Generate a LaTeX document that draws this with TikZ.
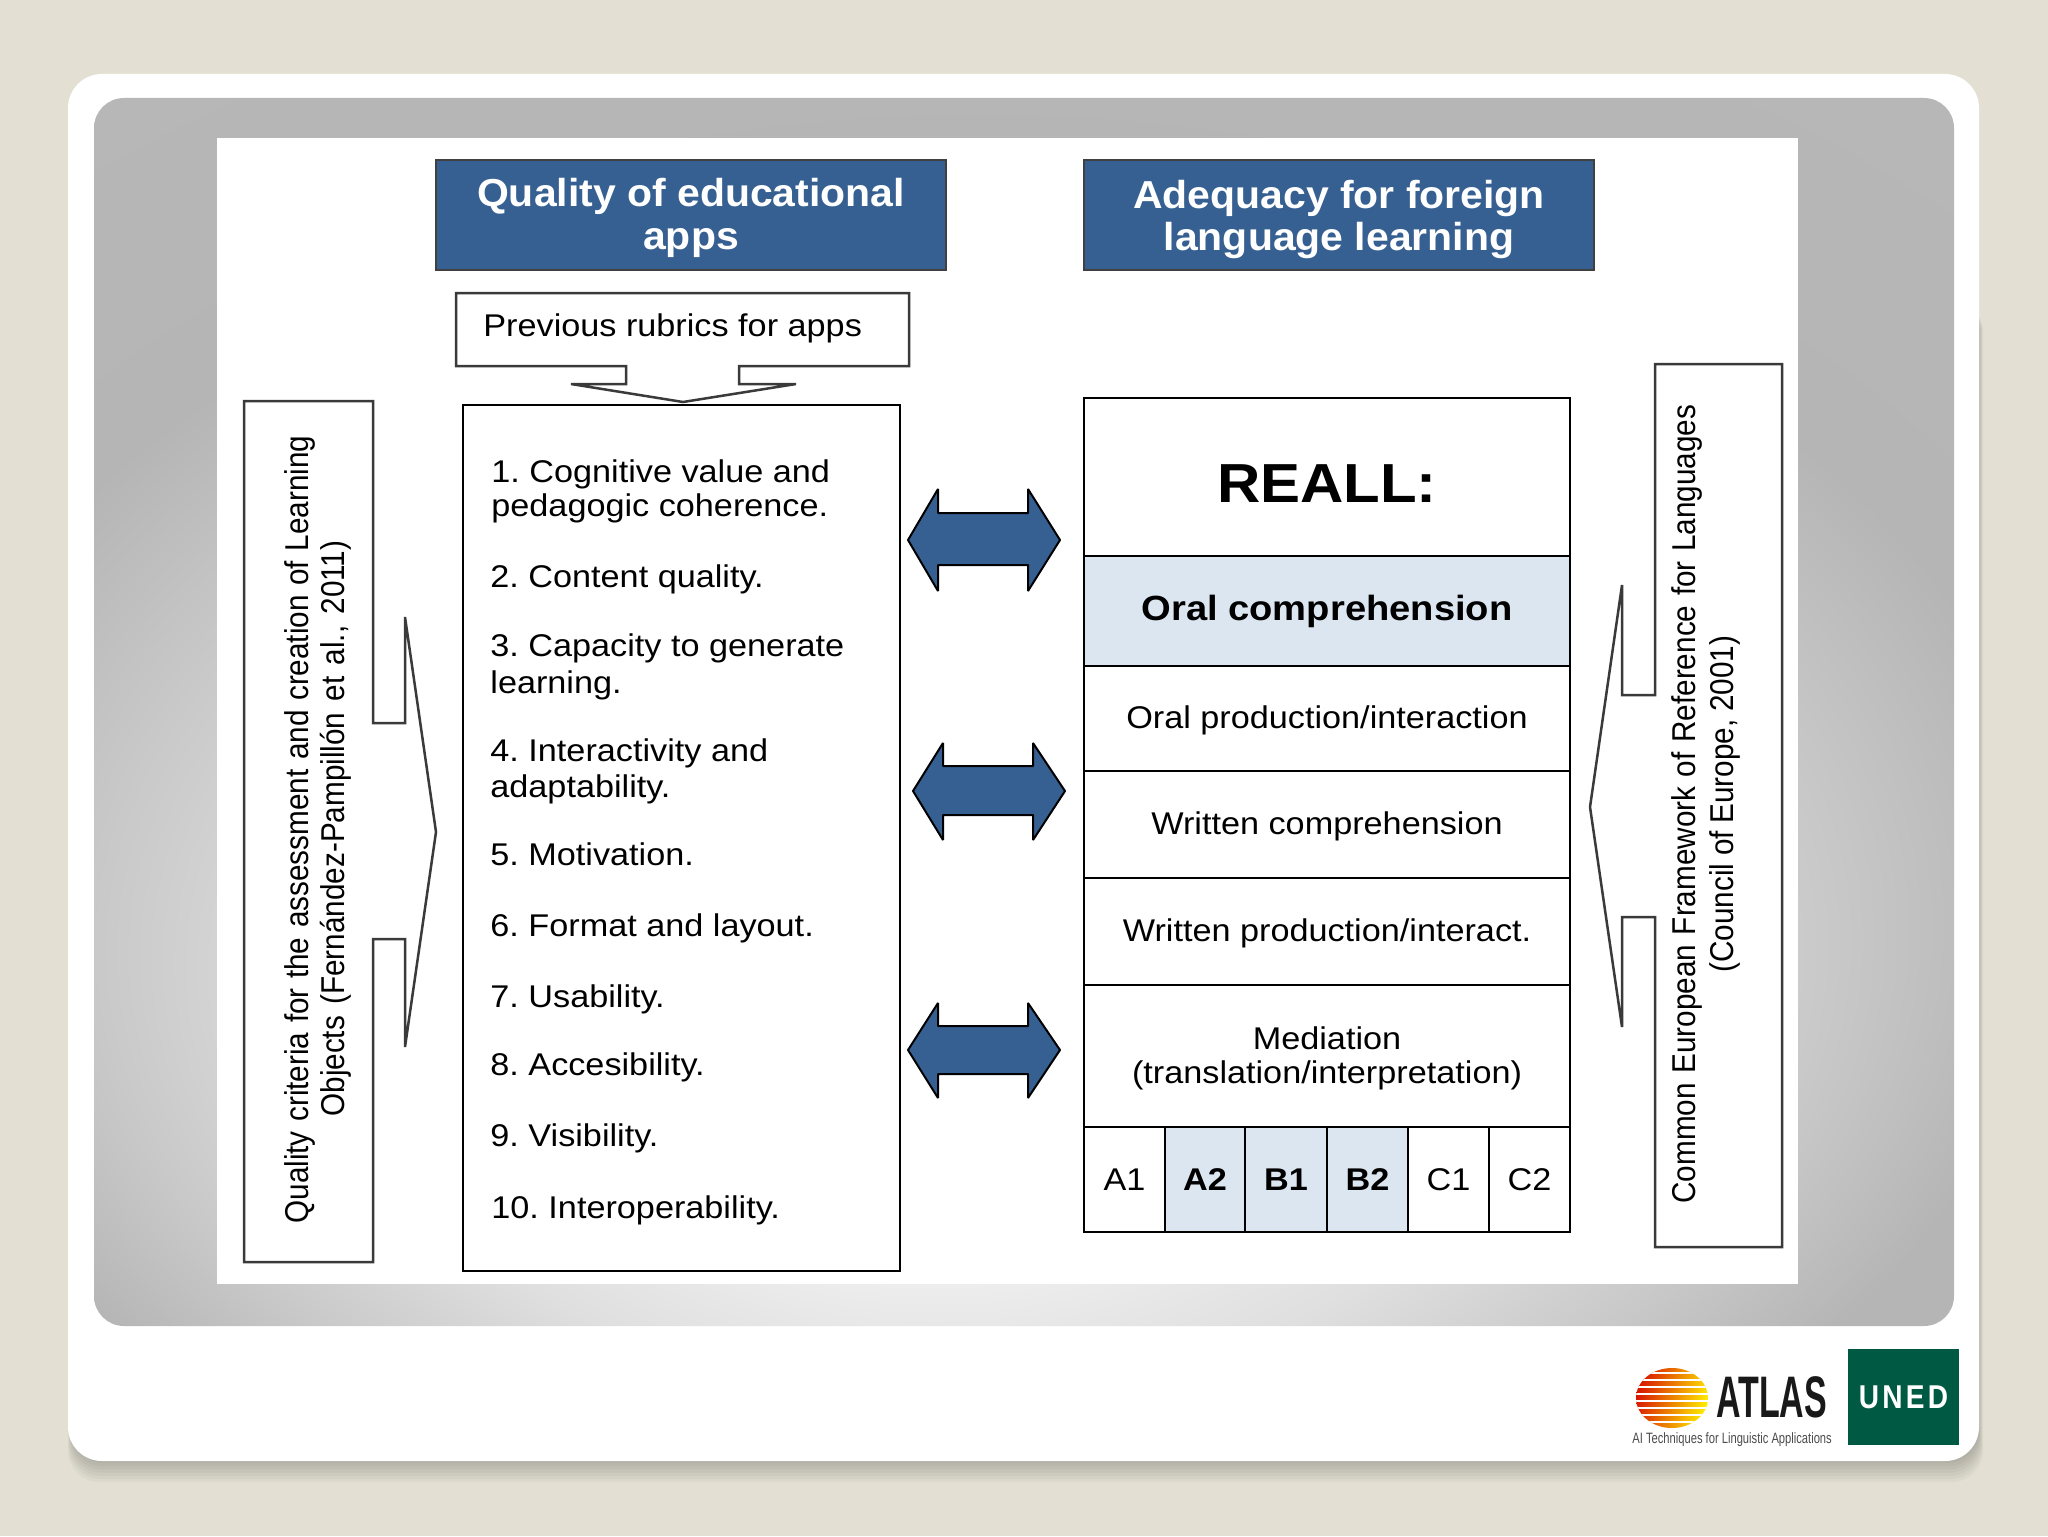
\documentclass[tikz,border=0pt]{standalone}
\usepackage{fontspec}
\setmainfont{Liberation Sans}
\AtBeginDocument{\frenchspacing}
\newfontfamily\lf[FakeStretch=1.09]{Liberation Sans}
\newfontfamily\hf[FakeStretch=1.05]{Liberation Sans}
\newfontfamily\vf[FakeStretch=0.9]{Liberation Sans}
\newfontfamily\atl[FakeStretch=0.58]{Liberation Sans}
\newfontfamily\atlsub[FakeStretch=0.745]{Liberation Sans}
\newfontfamily\un[FakeStretch=0.85,LetterSpace=10]{Liberation Sans}
\definecolor{pagebg}{HTML}{E3E0D3}
\definecolor{headblue}{HTML}{376092}
\definecolor{paleblue}{HTML}{DCE6F1}
\definecolor{unedgreen}{HTML}{005A43}
\definecolor{calloutline}{HTML}{3A3A3A}
\pgfdeclareradialshading{panelshade}{\pgfpoint{-3bp}{-17bp}}{
 color(0bp)=(white!96!gray);
 color(8bp)=(white!88!gray);
 color(16bp)=(white!75!gray);
 color(23bp)=(white!58!gray);
 color(29bp)=(white!42!gray);
 color(42bp)=(white!44!gray);
 color(47bp)=(white!32!gray);
 color(53bp)=(white!28!gray)}
\tikzset{
 listitem/.style={inner sep=0pt,anchor=base west,font=\fontsize{15.7}{18}\lf},
 vertlabel/.style={inner sep=0pt,anchor=base west,rotate=90,font=\fontsize{16.5}{18}\vf},
 head/.style={draw=black!75,line width=1pt,fill=headblue,text=white,inner sep=0pt,minimum width=255pt,minimum height=55pt,align=center,font=\fontsize{19.5}{20}\hf\bfseries},
 rowbox/.style={draw=black,line width=1pt,inner sep=0pt,minimum width=243pt,align=center,font=\fontsize{15.7}{13}\lf},
 cellbox/.style={draw=black,line width=1pt,inner sep=0pt,minimum height=52.5pt,font=\fontsize{15.7}{18}\lf},
 callout/.style={draw=calloutline,line width=1.25pt,fill=white,line join=miter},
 dblarrow/.style={draw=black,line width=1pt,fill=headblue,line join=bevel},
}
\begin{document}
\begin{tikzpicture}[x=0.5pt,y=-0.5pt]
\useasboundingbox (0,0) rectangle (2048,1536);
\fill[pagebg] (0,0) rectangle (2048,1536);
% card shadow
\foreach \d in {0,2,...,12}{
 \fill[black,opacity=0.03,rounded corners=16pt] (72-\d/3,300) rectangle (1979+\d/3,1463+1.6*\d);
}
\fill[white,rounded corners=17pt] (68,74) rectangle (1979,1461);
% gray panel
\shade[shading=panelshade,rounded corners=15pt] (94,98) rectangle (1954,1326);
\fill[white] (217,138) rectangle (1798,1284);

% headers
\node[head] (h1) at (691,215) {\rule{0pt}{17.5pt}Quality of educational\\[1.5pt]apps};
\node[head] (h2) at (1339,215) {\rule{0pt}{18.5pt}Adequacy for foreign\\[1pt]language learning};

% previous rubrics callout
\draw[callout] (456,293) -- (909,293) -- (909,366) -- (739,366) -- (739,384) -- (796,384) -- (683,402) -- (571,384) -- (626,384) -- (626,366) -- (456,366) -- cycle;
\node[listitem] (prev) at (483,336) {Previous rubrics for apps};

% central list
\node[draw=black,line width=1pt,inner sep=0pt,minimum width=218.5pt,minimum height=433pt] (list) at (681.5,838) {};
\node[listitem] (i1a) at (491,482) {1. Cognitive value and};
\node[listitem] (i1b) at (491,516) {pedagogic coherence.};
\node[listitem] (i2) at (490,587) {2. Content quality.};
\node[listitem] (i3a) at (490,656) {3. Capacity to generate};
\node[listitem] (i3b) at (490,693) {learning.};
\node[listitem] (i4a) at (490,761) {4. Interactivity and};
\node[listitem] (i4b) at (490,797) {adaptability.};
\node[listitem] (i5) at (490,865) {5. Motivation.};
\node[listitem] (i6) at (490,936) {6. Format and layout.};
\node[listitem] (i7) at (490,1007) {7. Usability.};
\node[listitem] (i8) at (490,1075) {8. Accesibility.};
\node[listitem] (i9) at (490,1146) {9. Visibility.};
\node[listitem] (i10) at (491,1218) {10. Interoperability.};

% left callout
\draw[callout] (244,401) -- (373,401) -- (373,723) -- (405,723) -- (405,617) -- (436,832) -- (405,1047) -- (405,939) -- (373,939) -- (373,1262) -- (244,1262) -- cycle;
\node[vertlabel] (l1) at (308,1224) {\makebox[394pt][s]{Quality criteria for the assessment and creation of Learning}};
\node[vertlabel] (l2) at (344,1117) {\makebox[288pt][s]{Objects (Fernández-Pampillón et al., 2011)}};

% right callout
\draw[callout] (1655,364) -- (1782,364) -- (1782,1247) -- (1655,1247) -- (1655,917) -- (1622,917) -- (1622,1027) -- (1590,807) -- (1622,585) -- (1622,695) -- (1655,695) -- cycle;
\node[vertlabel] (r1) at (1695,1204) {\makebox[399.5pt][s]{Common European Framework of Reference for Languages}};
\node[vertlabel] (r2) at (1733,973) {\makebox[168.5pt][s]{(Council of Europe, 2001)}};

% right stack
\node[rowbox,minimum height=79pt,font=\fontsize{27.5}{30}\lf\bfseries] (reall) at (1327,477) {\rule{0pt}{25.5pt}REALL:};
\node[rowbox,minimum height=55pt,fill=paleblue,font=\fontsize{17.5}{20}\lf\bfseries] (oc) at (1327,611) {Oral comprehension};
\node[rowbox,minimum height=52.5pt] (op) at (1327,718.5) {\rule{0pt}{13.3pt}Oral production/interaction};
\node[rowbox,minimum height=53.5pt] (wc) at (1327,824.5) {\rule{0pt}{13.3pt}Written comprehension};
\node[rowbox,minimum height=53.5pt] (wp) at (1327,931.5) {\rule{0pt}{13.3pt}Written production/interact.};
\node[rowbox,minimum height=71pt] (med) at (1327,1056) {\rule{0pt}{13.3pt}Mediation\\[4pt](translation/interpretation)};
\node[cellbox,minimum width=40.5pt] (a1) at (1124.5,1179.5) {A1};
\node[cellbox,minimum width=40pt,fill=paleblue,font=\fontsize{15.7}{18}\lf\bfseries] (a2) at (1205,1179.5) {A2};
\node[cellbox,minimum width=41pt,fill=paleblue,font=\fontsize{15.7}{18}\lf\bfseries] (b1) at (1286,1179.5) {B1};
\node[cellbox,minimum width=40.5pt,fill=paleblue,font=\fontsize{15.7}{18}\lf\bfseries] (b2) at (1367.5,1179.5) {B2};
\node[cellbox,minimum width=40.5pt] (c1) at (1448.5,1179.5) {C1};
\node[cellbox,minimum width=40.5pt] (c2) at (1529.5,1179.5) {C2};

% double arrows
\draw[dblarrow] (908,540) -- (938,489) -- (938,513) -- (1028,513) -- (1028,489) -- (1060,540) -- (1028,591) -- (1028,565) -- (938,565) -- (938,591) -- cycle;
\draw[dblarrow] (913,791) -- (943,743) -- (943,766) -- (1033,766) -- (1033,743) -- (1065,791) -- (1033,840) -- (1033,815) -- (943,815) -- (943,840) -- cycle;
\draw[dblarrow] (908,1050) -- (938,1003) -- (938,1026) -- (1028,1026) -- (1028,1003) -- (1060,1050) -- (1028,1098) -- (1028,1074) -- (938,1074) -- (938,1098) -- cycle;

% ATLAS logo
\begin{scope}
\clip (1672,1398) ellipse [x radius=36,y radius=30];
\shade[left color=red!80!orange!85!black,right color=yellow!85!orange,shading angle=75] (1636,1368) rectangle (1708,1428);
\foreach \yy in {1373,1380,1387,1394,1401,1408,1415,1422}{
 \draw[white,line width=0.7pt] (1630,\yy) -- (1714,\yy);
}
\end{scope}
\node[inner sep=0pt,anchor=base west,text=black!90,font=\fontsize{29.3}{30}\atl\bfseries] (atlas) at (1716,1417) {ATLAS};
\node[inner sep=0pt,anchor=base west,text=black!70,font=\fontsize{7.5}{9}\atlsub] (atlassub) at (1632,1443) {AI Techniques for Linguistic Applications};
\node[fill=unedgreen,inner sep=0pt,minimum width=55.5pt,minimum height=48pt,text=white,font=\fontsize{16.5}{18}\un\bfseries] (uned) at (1903.5,1397) {UNED};
\end{tikzpicture}
\end{document}
